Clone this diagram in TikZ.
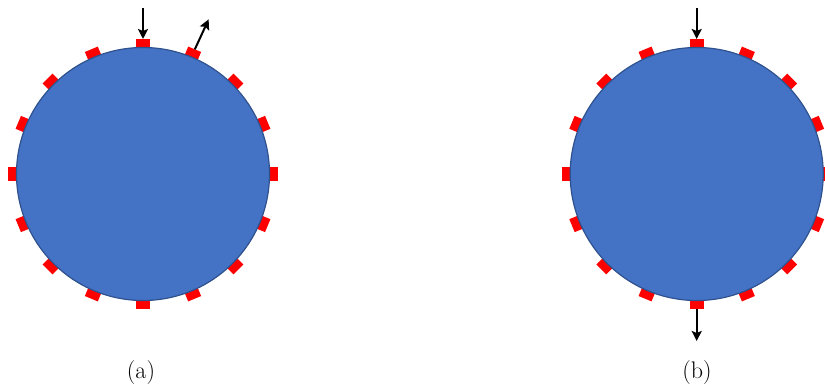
\documentclass[tikz,border=0pt]{standalone}
\usetikzlibrary{calc,arrows.meta}
\definecolor{ballfill}{HTML}{4472C4}
\definecolor{ballline}{HTML}{2F528F}
\definecolor{markred}{HTML}{FF0000}
\tikzset{
  redmark/.style={fill=markred, draw=none, rectangle, minimum width=9pt, minimum height=14pt, inner sep=0pt, outer sep=0pt},
  ball/.style={circle, fill=ballfill, draw=ballline, line width=1.2pt, minimum size=253pt, inner sep=0pt, outer sep=0pt},
  arr/.style={line width=2pt, -{Stealth[length=10pt,width=10pt,inset=2pt]}},
  lbl/.style={font=\fontsize{24}{28}\selectfont, inner sep=0pt}
}
\begin{document}
\begin{tikzpicture}[x=1pt,y=1pt]
\useasboundingbox (0,-388) rectangle (825,0);
\coordinate (ca) at (143,-174);
\coordinate (cb) at (696.7,-174);
% red marks
\foreach \i in {0,...,15}{
  \pgfmathsetmacro{\ang}{\i*22.5}
  \node[redmark, rotate=\ang] (ma\i) at ($(ca)+(\ang:130.5)$) {};
  \node[redmark, rotate=\ang] (mb\i) at ($(cb)+(\ang:130.5)$) {};
}
% balls
\node[ball] (balla) at (ca) {};
\node[ball] (ballb) at (cb) {};
% arrow coordinates
\coordinate (atop) at ($(ca)+(90:166)$);
\coordinate (aout) at ($(ca)+(67:168)$);
\coordinate (btop) at ($(cb)+(90:166)$);
\coordinate (bbot) at ($(cb)+(270:167)$);
\draw[arr] (atop) -- (ma4);
\draw[arr] (ma3) -- (aout);
\draw[arr] (btop) -- (mb4);
\draw[arr] (mb12) -- (bbot);
% labels
\node[lbl] (la) at (141,-373) {(a)};
\node[lbl] (lb) at (697,-373) {(b)};
\end{tikzpicture}
\end{document}
